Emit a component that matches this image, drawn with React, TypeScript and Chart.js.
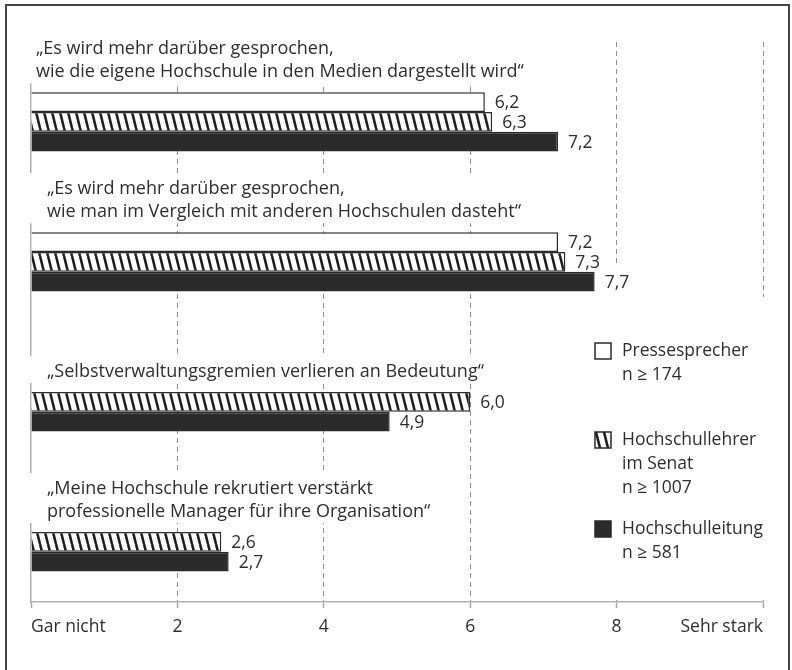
import React, { useEffect, useRef } from 'react';
import { Chart, registerables } from 'chart.js';

Chart.register(...registerables);

// ---- data ----
const categories: string[][] = [
  ['„Es wird mehr darüber gesprochen,', 'wie die eigene Hochschule in den Medien dargestellt wird“'],
  ['„Es wird mehr darüber gesprochen,', 'wie man im Vergleich mit anderen Hochschulen dasteht“'],
  ['„Selbstverwaltungsgremien verlieren an Bedeutung“'],
  ['„Meine Hochschule rekrutiert verstärkt', 'professionelle Manager für ihre Organisation“'],
];
const seriesNames = ['Pressesprecher', 'Hochschullehrer im Senat', 'Hochschulleitung'];
const legendLines: string[][] = [
  ['Pressesprecher', 'n ≥ 174'],
  ['Hochschullehrer', 'im Senat', 'n ≥ 1007'],
  ['Hochschulleitung', 'n ≥ 581'],
];
const pressesprecher: (number | null)[] = [6.2, 7.2, null, null];
const hochschullehrer: (number | null)[] = [6.3, 7.3, 6.0, 2.6];
const hochschulleitung: (number | null)[] = [7.2, 7.7, 4.9, 2.7];
const spacer: (number | null)[] = [null, null, null, null];
const axisMin = 0;
const axisMax = 10;
const axisStep = 2;
const axisEndLabels = ['Gar nicht', 'Sehr stark'];

// ---- styles ----
const FONT = '"Open Sans", sans-serif';
const FS_Q = 18;
const FS = 17.5;
const TEXT = '#2e2e2e';
const EDGE = '#2a2a2a';
const QUOTE_INDENT = [5, 16, 16, 16];
const LINE_H = 23;

const fmt = (v: number) => v.toFixed(1).replace('.', ',');

function makeHatch(): CanvasPattern | string {
  const c = document.createElement('canvas');
  c.width = 8;
  c.height = 32;
  const g = c.getContext('2d');
  if (!g) return '#888';
  g.fillStyle = '#ffffff';
  g.fillRect(0, 0, 8, 32);
  g.strokeStyle = '#1e1e1e';
  g.lineWidth = 2.6;
  for (const dx of [-8, 0, 8]) {
    g.beginPath();
    g.moveTo(dx, 0);
    g.lineTo(dx + 8, 32);
    g.stroke();
  }
  return g.createPattern(c, 'repeat') || '#888';
}

function quoteBlocks(chart: any) {
  const ctx = chart.ctx;
  const ca = chart.chartArea;
  ctx.save();
  ctx.font = `${FS_Q}px ${FONT}`;
  const out: any[] = [];
  categories.forEach((lines, i) => {
    let el: any = null;
    for (let d = 1; d < chart.data.datasets.length; d++) {
      if (chart.data.datasets[d].data[i] != null) {
        el = chart.getDatasetMeta(d).data[i];
        break;
      }
    }
    if (!el) return;
    const top = el.y - el.height / 2;
    const lastC = top - 20;
    const firstC = lastC - (lines.length - 1) * LINE_H;
    const x = ca.left + QUOTE_INDENT[i];
    const w = Math.max(...lines.map((l) => ctx.measureText(l).width));
    out.push({ lines, x, firstC, box: { x: ca.left - 3, y: firstC - 16, w: x + w + 4 - (ca.left - 3), h: lastC + 11 - (firstC - 16) } });
  });
  ctx.restore();
  return out;
}

function valueLabels(chart: any) {
  const ctx = chart.ctx;
  ctx.save();
  ctx.font = `${FS}px ${FONT}`;
  const out: any[] = [];
  for (let d = 1; d < chart.data.datasets.length; d++) {
    const meta = chart.getDatasetMeta(d);
    chart.data.datasets[d].data.forEach((v: number | null, i: number) => {
      if (v == null) return;
      const el: any = meta.data[i];
      const text = fmt(v);
      const x = el.x + 10;
      const y = el.y + 1;
      const w = ctx.measureText(text).width;
      out.push({ text, x, y, box: { x: x - 2, y: y - 16, w: w + 4, h: 32 } });
    });
  }
  ctx.restore();
  return out;
}

function legendGeom(chart: any) {
  const ca = chart.chartArea;
  const sqX = ca.right - 168;
  const startY = 351;
  const step = 89;
  return { sqX, startY, step, box: { x: sqX - 10, y: 297, w: chart.width - 4 - (sqX - 10), h: ca.bottom - 2 - 297 } };
}

const overlayPlugin = {
  id: 'overlay',
  beforeDatasetsDraw(chart: any) {
    const ctx = chart.ctx;
    ctx.save();
    ctx.fillStyle = '#ffffff';
    for (const q of quoteBlocks(chart)) ctx.fillRect(q.box.x, q.box.y, q.box.w, q.box.h);
    for (const l of valueLabels(chart)) ctx.fillRect(l.box.x, l.box.y, l.box.w, l.box.h);
    const lg = legendGeom(chart);
    ctx.fillRect(lg.box.x, lg.box.y, lg.box.w, lg.box.h);
    ctx.restore();
  },
  afterDatasetsDraw(chart: any) {
    const ctx = chart.ctx;
    ctx.save();
    ctx.fillStyle = TEXT;
    ctx.textBaseline = 'middle';
    ctx.textAlign = 'left';
    ctx.font = `${FS_Q}px ${FONT}`;
    for (const q of quoteBlocks(chart)) {
      q.lines.forEach((line: string, k: number) => ctx.fillText(line, q.x, q.firstC + k * LINE_H));
    }
    ctx.font = `${FS}px ${FONT}`;
    for (const l of valueLabels(chart)) ctx.fillText(l.text, l.x, l.y);
    // legend
    const lg = legendGeom(chart);
    for (let s = 0; s < 3; s++) {
      const ds = chart.data.datasets[s + 1];
      const cy = lg.startY + s * lg.step;
      ctx.fillStyle = ds.backgroundColor;
      ctx.fillRect(lg.sqX, cy - 8, 16, 16);
      ctx.strokeStyle = EDGE;
      ctx.lineWidth = 1.5;
      ctx.strokeRect(lg.sqX, cy - 8, 16, 16);
      ctx.fillStyle = TEXT;
      legendLines[s].forEach((line, k) => ctx.fillText(line, lg.sqX + 27, cy + k * 24));
    }
    ctx.restore();
  },
  afterDraw(chart: any) {
    const ctx = chart.ctx;
    ctx.save();
    ctx.strokeStyle = '#444';
    ctx.lineWidth = 2;
    ctx.strokeRect(6, 5, 783, 700);
    ctx.restore();
  },
};

export default function App() {
  const ref = useRef<HTMLCanvasElement | null>(null);
  useEffect(() => {
    if (!ref.current) return;
    const hatch = makeHatch();
    const common = { borderColor: EDGE, borderWidth: 1.5, barPercentage: 1.0, categoryPercentage: 0.565 };
    const chart = new Chart(ref.current, {
      type: 'bar',
      data: {
        labels: categories.map((c) => c.join(' ')),
        datasets: [
          { label: '', data: spacer, backgroundColor: 'rgba(0,0,0,0)', ...common, borderWidth: 0 },
          { label: seriesNames[0], data: pressesprecher, backgroundColor: '#ffffff', ...common },
          { label: seriesNames[1], data: hochschullehrer, backgroundColor: hatch as any, ...common },
          { label: seriesNames[2], data: hochschulleitung, backgroundColor: '#2b2b2b', ...common },
        ],
      },
      options: {
        indexAxis: 'y',
        responsive: false,
        animation: false,
        events: [],
        layout: { padding: { left: 31, right: 29, top: 42, bottom: 23 } },
        plugins: { legend: { display: false }, tooltip: { enabled: false } },
        scales: {
          x: {
            type: 'linear',
            min: axisMin,
            max: axisMax,
            ticks: {
              stepSize: axisStep,
              align: 'inner',
              padding: 9,
              color: TEXT,
              font: { family: FONT, size: FS },
              callback: (v: any) => (v === axisMin ? axisEndLabels[0] : v === axisMax ? axisEndLabels[1] : String(v)),
            },
            grid: {
              color: (c: any) => (c.tick && c.tick.value === axisMin ? 'rgba(0,0,0,0)' : '#8f8f8f'),
              lineWidth: 1,
              drawTicks: true,
              tickLength: 6,
              tickColor: '#a8a8a8',
              tickWidth: 1.5,
            },
            border: { display: true, color: '#b0b0b0', width: 1.5, dash: [5, 4] },
          },
          y: {
            type: 'category',
            ticks: { display: false },
            grid: { display: false, drawTicks: false },
            border: { display: true, color: '#b0b0b0', width: 1.5 },
          },
        },
      } as any,
      plugins: [overlayPlugin],
    });
    return () => chart.destroy();
  }, []);
  return (
    <div style={{ position: 'absolute', left: 0, top: 0, width: 792, height: 670, background: '#fff' }}>
      <canvas ref={ref} width={792} height={670} style={{ display: 'block' }} />
    </div>
  );
}
